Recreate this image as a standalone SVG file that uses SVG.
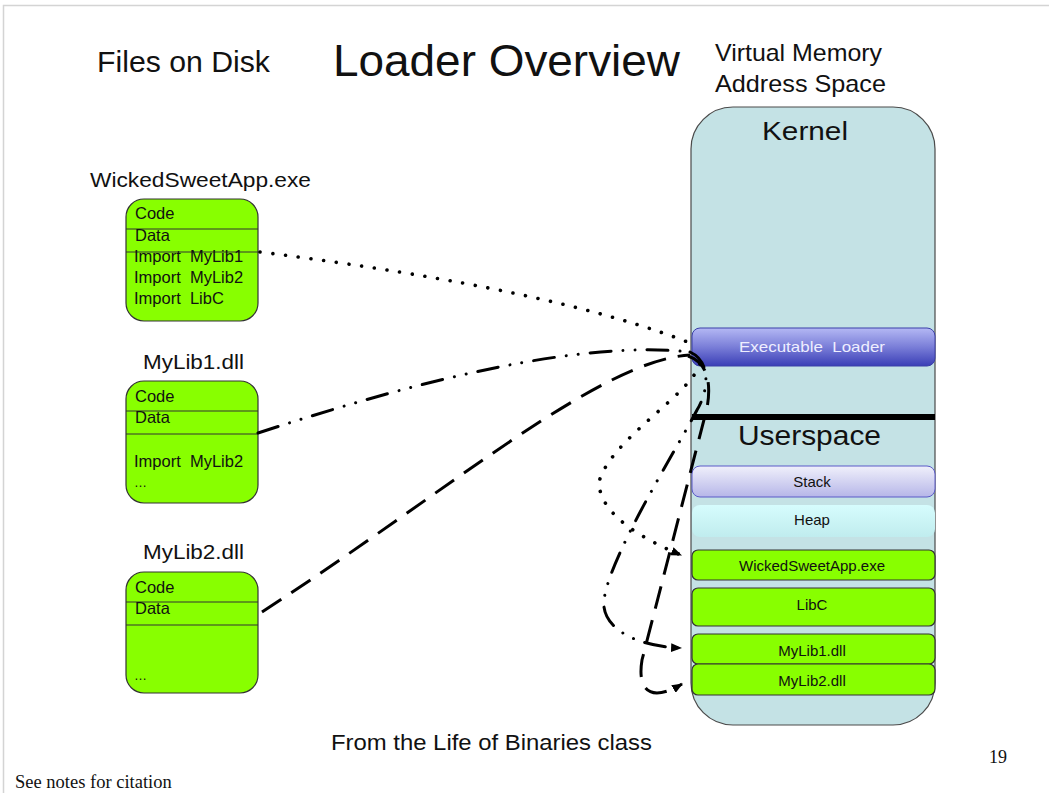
<svg xmlns="http://www.w3.org/2000/svg" width="1049" height="793" viewBox="0 0 1049 793">
  <style>
    .sans { font-family: "Liberation Sans", Arial, sans-serif; fill: #111; }
    .serif { font-family: "Liberation Serif", "Times New Roman", serif; fill: #111; }
    .file { fill: #88ff00; stroke: #333; stroke-width: 1.2; }
    .sep { stroke: #333; stroke-width: 1.2; }
    .seg { fill: #88ff00; stroke: #333; stroke-width: 1.2; }
    .boxtxt { font-size: 16.5px; }
    .memtxt { font-size: 15px; text-anchor: middle; }
    .conn { fill: none; stroke: #000; stroke-width: 3; }
    .dotted { stroke-width: 3.6; stroke-dasharray: 0.01 12.8; stroke-linecap: round; }
    .dashdot { stroke-dasharray: 21 12 0.01 12 0.01 12; stroke-linecap: round; }
    .dashed { stroke-dasharray: 23 12; stroke-linecap: butt; }
  </style>
  <defs>
    <linearGradient id="loaderFill" x1="0" y1="0" x2="0" y2="1">
      <stop offset="0" stop-color="#b4b8f4"/>
      <stop offset="0.5" stop-color="#7a7ed8"/>
      <stop offset="1" stop-color="#3a3eb6"/>
    </linearGradient>
    <linearGradient id="stackFill" x1="0" y1="0" x2="0" y2="1">
      <stop offset="0" stop-color="#f0f0fb"/>
      <stop offset="1" stop-color="#b6b6e8"/>
    </linearGradient>
    <linearGradient id="heapFill" x1="0" y1="0" x2="0" y2="1">
      <stop offset="0" stop-color="#d6fcfd"/>
      <stop offset="1" stop-color="#c0ecee"/>
    </linearGradient>
    <marker id="head" viewBox="0 0 10 8" refX="9" refY="4" markerWidth="11" markerHeight="9" markerUnits="userSpaceOnUse" orient="auto">
      <path d="M0,0 L10,4 L0,8 z" fill="#000"/>
    </marker>
  </defs>

  <!-- page frame -->
  <rect x="0" y="0" width="1049" height="793" fill="#fff"/>
  <path d="M3.5,793 V5.5 H1049" fill="none" stroke="#d4d4d4" stroke-width="1.5"/>

  <!-- headings -->
  <g id="headings">
    <text class="sans" x="97" y="72" font-size="29" textLength="173" lengthAdjust="spacingAndGlyphs">Files on Disk</text>
    <text class="sans" x="333" y="76" font-size="45" textLength="347" lengthAdjust="spacingAndGlyphs">Loader Overview</text>
    <text class="sans" x="715" y="61" font-size="24" textLength="167" lengthAdjust="spacingAndGlyphs">Virtual Memory</text>
    <text class="sans" x="715" y="92" font-size="24" textLength="171" lengthAdjust="spacingAndGlyphs">Address Space</text>
  </g>

  <!-- files on disk -->
  <g id="file-app">
    <text class="sans" x="90" y="187" font-size="20" textLength="221" lengthAdjust="spacingAndGlyphs">WickedSweetApp.exe</text>
    <rect class="file" x="126" y="199" width="132" height="122" rx="18"/>
    <line class="sep" x1="126" y1="229" x2="258" y2="229"/>
    <line class="sep" x1="126" y1="252" x2="258" y2="252"/>
    <text class="sans boxtxt" x="135" y="219">Code</text>
    <text class="sans boxtxt" x="135" y="240.5">Data</text>
    <text class="sans boxtxt" x="134" y="261.5">Import&#160; MyLib1</text>
    <text class="sans boxtxt" x="134" y="282.5">Import&#160; MyLib2</text>
    <text class="sans boxtxt" x="134" y="304">Import&#160; LibC</text>
  </g>

  <g id="file-mylib1">
    <text class="sans" x="143" y="369" font-size="20" textLength="101" lengthAdjust="spacingAndGlyphs">MyLib1.dll</text>
    <rect class="file" x="126" y="381" width="132" height="122" rx="18"/>
    <line class="sep" x1="126" y1="411" x2="258" y2="411"/>
    <line class="sep" x1="126" y1="434" x2="258" y2="434"/>
    <text class="sans boxtxt" x="135" y="401.5">Code</text>
    <text class="sans boxtxt" x="135" y="423">Data</text>
    <text class="sans boxtxt" x="134" y="467">Import&#160; MyLib2</text>
    <text class="sans" x="134" y="487" font-size="13" fill="#555">…</text>
  </g>

  <g id="file-mylib2">
    <text class="sans" x="143" y="559" font-size="20" textLength="101" lengthAdjust="spacingAndGlyphs">MyLib2.dll</text>
    <rect class="file" x="126" y="572" width="132" height="121" rx="18"/>
    <line class="sep" x1="126" y1="602" x2="258" y2="602"/>
    <line class="sep" x1="126" y1="625" x2="258" y2="625"/>
    <text class="sans boxtxt" x="135" y="592.5">Code</text>
    <text class="sans boxtxt" x="135" y="614">Data</text>
    <text class="sans" x="134" y="680" font-size="13" fill="#555">…</text>
  </g>

  <!-- virtual address space column -->
  <g id="address-space">
    <rect x="691" y="107" width="244" height="618" rx="42" fill="#c4e2e5" stroke="#4a4a4a" stroke-width="1.2"/>
    <text class="sans" x="762" y="140" font-size="26" textLength="86" lengthAdjust="spacingAndGlyphs">Kernel</text>
    <rect x="692" y="414" width="243" height="6" fill="#000"/>
    <text class="sans" x="738" y="445" font-size="27" textLength="143" lengthAdjust="spacingAndGlyphs">Userspace</text>
  </g>

  <g id="executable-loader">
    <rect x="692" y="328" width="243" height="38" rx="8" fill="url(#loaderFill)" stroke="#3a3ea8" stroke-width="1"/>
    <text class="sans memtxt" x="812" y="352" font-size="17" style="fill:#eef" textLength="146" lengthAdjust="spacingAndGlyphs">Executable&#160; Loader</text>
  </g>

  <g id="stack">
    <rect x="692" y="466" width="243" height="31" rx="8" fill="url(#stackFill)" stroke="#5a5ac8" stroke-width="1"/>
    <text class="sans memtxt" x="812" y="487">Stack</text>
  </g>

  <g id="heap">
    <rect x="692" y="505" width="243" height="32" rx="8" fill="url(#heapFill)"/>
    <text class="sans memtxt" x="812" y="525">Heap</text>
  </g>

  <g id="seg-app">
    <rect class="seg" x="692" y="550" width="243" height="30" rx="6"/>
    <text class="sans memtxt" x="812" y="571" textLength="146" lengthAdjust="spacingAndGlyphs">WickedSweetApp.exe</text>
  </g>

  <g id="seg-libc">
    <rect class="seg" x="692" y="588" width="243" height="38" rx="6"/>
    <text class="sans memtxt" x="812" y="610">LibC</text>
  </g>

  <g id="seg-mylib1">
    <rect class="seg" x="692" y="634" width="243" height="30" rx="6"/>
    <text class="sans memtxt" x="812" y="655.5">MyLib1.dll</text>
  </g>

  <g id="seg-mylib2">
    <rect class="seg" x="692" y="664" width="243" height="31" rx="6"/>
    <text class="sans memtxt" x="812" y="686">MyLib2.dll</text>
  </g>

  <!-- loader connectors: file imports in, mapped images out -->
  <g id="connectors">
    <path class="conn dotted" d="M260,252 Q560,290 695,345"/>
    <path class="conn dotted" d="M700,364 C690,395 610,440 599,482 C599,515 645,540 681,555" marker-end="url(#head)"/>
    <path class="conn dashdot" d="M258,433 C420,380 580,340 690,352"/>
    <path class="conn dashdot" d="M690,352 C712,362 708,392 697,410 C675,452 610,555 604,600 C601,625 630,646 681,648" marker-end="url(#head)"/>
    <path class="conn dashed" d="M262,612 C450,490 600,360 690,355"/>
    <path class="conn dashed" d="M688,356 C706,362 712,380 707,408 L642,660 C637,690 650,703 682,684" marker-end="url(#head)"/>
  </g>

  <!-- footer -->
  <g id="footer">
    <text class="sans" x="331" y="750" font-size="22" textLength="321" lengthAdjust="spacingAndGlyphs">From the Life of Binaries class</text>
    <text class="serif" x="989" y="763" font-size="18">19</text>
    <text class="serif" x="15" y="788" font-size="18.5">See notes for citation</text>
  </g>
</svg>
